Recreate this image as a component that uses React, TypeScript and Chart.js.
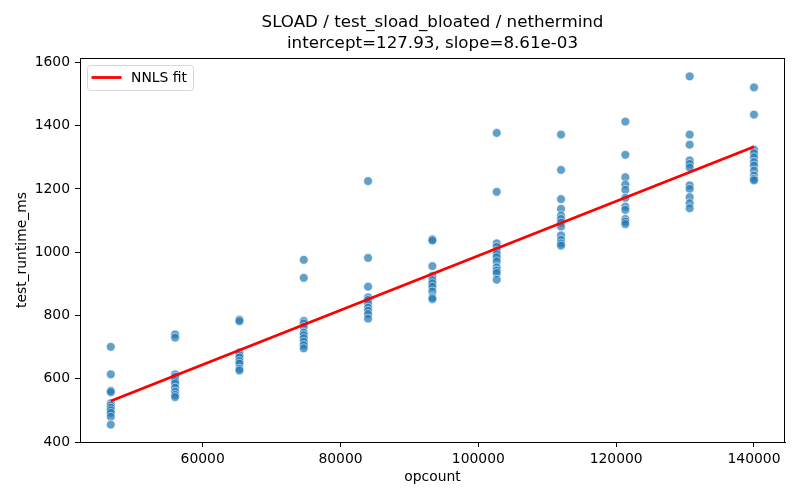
import React, { MutableRefObject, useEffect, useRef } from 'react';
import { Chart, registerables } from 'chart.js';

Chart.register(...registerables);

// opcount levels the benchmark was run at
const opcounts = [46667, 56000, 65333, 74667, 84000, 93333, 102667, 112000, 121333, 130667, 140000];

const runtimes: number[][] = [
  [701, 614, 562, 558, 522, 515, 508, 500, 492, 480, 455],
  [740, 730, 614, 606, 593, 585, 572, 559, 549, 542],
  [787, 782, 683, 674, 667, 656, 648, 632, 626],
  [976, 919, 783, 775, 764, 746, 738, 728, 717, 706, 696],
  [1225, 982, 891, 857, 849, 838, 825, 815, 804, 790],
  [1041, 1037, 956, 925, 912, 902, 891, 876, 857, 852],
  [1377, 1191, 1028, 1017, 1005, 994, 984, 971, 952, 942, 934, 913],
  [1372, 1260, 1168, 1137, 1116, 1105, 1094, 1081, 1053, 1039, 1028, 1021],
  [1413, 1308, 1237, 1214, 1197, 1172, 1144, 1134, 1105, 1097, 1089],
  [1556, 1372, 1340, 1290, 1279, 1268, 1211, 1200, 1174, 1155, 1139],
  [1521, 1435, 1324, 1313, 1300, 1285, 1274, 1258, 1242, 1232, 1227],
];

// NNLS fit line end points
const fitX = [46667, 140000];
const fitY = [529.7, 1333.3];

const xTicks = [60000, 80000, 100000, 120000, 140000];
const yTicks = [400, 600, 800, 1000, 1200, 1400, 1600];

const titleLines = ['SLOAD / test_sload_bloated / nethermind', 'intercept=127.93, slope=8.61e-03'];

const FONT = "'DejaVu Sans', sans-serif";

const decorations = {
  id: 'decorations',
  afterDraw(chart: any) {
    const { ctx, chartArea } = chart;
    const { left, right, top, bottom } = chartArea;
    const cx = (left + right) / 2;
    ctx.save();
    // frame
    ctx.strokeStyle = '#000';
    ctx.lineWidth = 1;
    ctx.strokeRect(left + 0.5, top + 0.5, right - left - 1, bottom - top);

    ctx.fillStyle = '#000';
    ctx.textAlign = 'center';
    ctx.textBaseline = 'middle';
    ctx.font = `16.7px ${FONT}`;
    ctx.fillText(titleLines[0], cx, 23);
    ctx.fillText(titleLines[1], cx, 44);

    ctx.font = `13.9px ${FONT}`;
    ctx.fillText('opcount', cx, 477);
    ctx.save();
    ctx.translate(22, (top + bottom) / 2);
    ctx.rotate(-Math.PI / 2);
    ctx.fillText('test_runtime_ms', 0, 0);
    ctx.restore();

    // legend
    const bx = 87.5, by = 65.5, bw = 106, bh = 25, r = 3;
    ctx.beginPath();
    ctx.moveTo(bx + r, by);
    ctx.arcTo(bx + bw, by, bx + bw, by + bh, r);
    ctx.arcTo(bx + bw, by + bh, bx, by + bh, r);
    ctx.arcTo(bx, by + bh, bx, by, r);
    ctx.arcTo(bx, by, bx + bw, by, r);
    ctx.closePath();
    ctx.fillStyle = 'rgba(255,255,255,0.8)';
    ctx.fill();
    ctx.strokeStyle = '#d6d6d6';
    ctx.stroke();
    ctx.strokeStyle = '#ff0000';
    ctx.lineWidth = 2.8;
    ctx.beginPath();
    ctx.moveTo(91.5, 77.5);
    ctx.lineTo(121.5, 77.5);
    ctx.stroke();
    ctx.fillStyle = '#000';
    ctx.textAlign = 'left';
    ctx.fillText('NNLS fit', 131, 78);
    ctx.restore();
  },
};

const App: React.FC = () => {
  const canvasRef = useRef() as MutableRefObject<HTMLCanvasElement | null>;

  useEffect(() => {
    let chart: any = null;
    if (canvasRef.current) {
      const points: { x: number; y: number }[] = [];
      opcounts.forEach((x, i) => runtimes[i].forEach((y) => points.push({ x, y })));
      const fit = fitX.map((x, i) => ({ x, y: fitY[i] }));

      chart = new Chart(canvasRef.current, {
        type: 'scatter',
        data: {
          datasets: [
            {
              label: 'NNLS fit',
              data: fit,
              showLine: true,
              borderColor: '#ff0000',
              borderWidth: 2.8,
              pointRadius: 0,
              order: 0,
            },
            {
              label: 'runs',
              data: points,
              backgroundColor: 'rgba(31,119,180,0.7)',
              borderColor: 'rgba(255,255,255,0.7)',
              borderWidth: 0.8,
              pointRadius: 4.4,
              order: 1,
            },
          ],
        },
        options: {
          responsive: false,
          animation: false,
          layout: { padding: { top: 58, right: 15, left: 0, bottom: 0 } },
          plugins: {
            legend: { display: false },
            title: { display: false },
            tooltip: { enabled: false },
          },
          scales: {
            x: {
              type: 'linear',
              min: 42200,
              max: 144500,
              afterBuildTicks: (scale: any) => {
                scale.ticks = xTicks.map((value) => ({ value }));
              },
              afterFit: (scale: any) => {
                scale.height = 58;
              },
              grid: { drawOnChartArea: false, drawTicks: true, tickLength: 5, color: '#000' },
              border: { display: true, color: '#000' },
              ticks: {
                color: '#000',
                padding: 4,
                maxRotation: 0,
                font: { family: FONT, size: 13.9 },
                callback: (v: any) => String(v),
              },
            },
            y: {
              type: 'linear',
              min: 400,
              max: 1614,
              afterBuildTicks: (scale: any) => {
                scale.ticks = yTicks.map((value) => ({ value }));
              },
              afterFit: (scale: any) => {
                scale.width = 80;
              },
              grid: { drawOnChartArea: false, drawTicks: true, tickLength: 5, color: '#000' },
              border: { display: true, color: '#000' },
              ticks: {
                color: '#000',
                padding: 5,
                font: { family: FONT, size: 13.9 },
                callback: (v: any) => String(v),
              },
            },
          },
        },
        plugins: [decorations],
      } as any);
    }
    return () => {
      if (chart) {
        chart.destroy();
      }
    };
  }, []);

  return (
    <div style={{ position: 'fixed', left: 0, top: 0, width: 800, height: 500, background: '#fff' }}>
      <canvas ref={canvasRef} width={800} height={500} />
    </div>
  );
};

export default App;
